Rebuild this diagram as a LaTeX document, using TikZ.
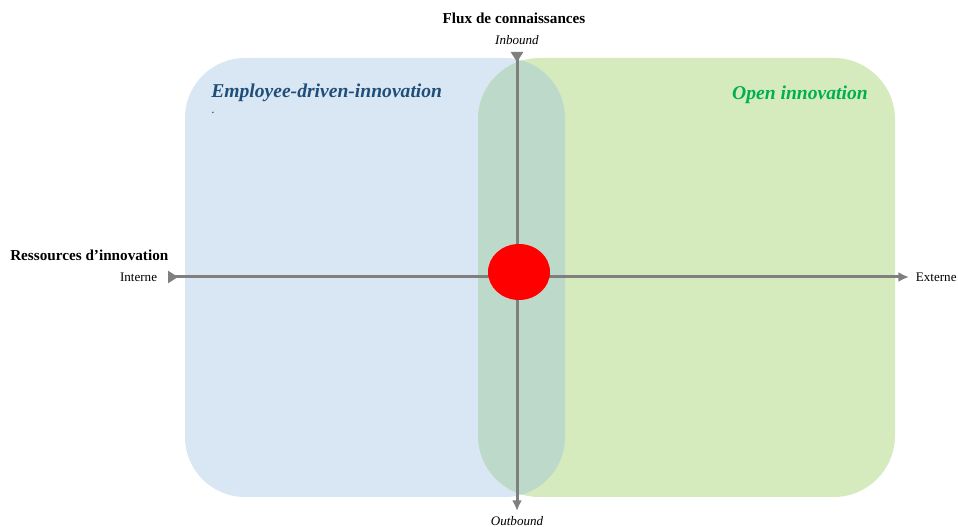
\documentclass[tikz,border=0pt]{standalone}
\usepackage{fontspec}
\setmainfont{Liberation Serif}
\usetikzlibrary{arrows.meta,shapes.geometric}
\usetikzlibrary{positioning,calc}
\definecolor{edBlue}{HTML}{D9E7F5}
\definecolor{oiGreen}{HTML}{D5EBBE}
\definecolor{mixGreen}{HTML}{BDD9CA}
\definecolor{edText}{HTML}{1F4E79}
\definecolor{oiText}{HTML}{00B050}
\definecolor{axisGray}{HTML}{7F7F7F}

\begin{document}
\begin{tikzpicture}[
  x=0.75pt, y=-0.75pt,
  axisLabel/.style={font=\fontsize{9.8}{9.8}\selectfont, inner sep=0pt},
  axisTitle/.style={font=\fontsize{11.4}{11.4}\selectfont\bfseries, inner sep=0pt},
  zoneTitle/.style={font=\fontsize{14.7}{14.7}\selectfont\bfseries\itshape, inner sep=0pt}
]
	\tikzstyle{axis} = [draw=axisGray, line width=2.25pt, {Triangle[reversed,length=7.5pt,width=9pt]}-{Latex[length=8pt,width=7.5pt]}]

	\useasboundingbox (0,0) rectangle (958,527);

	% the two zones
	\fill[edBlue, rounded corners=45pt] (185,58) rectangle (565,497);
	\fill[oiGreen, rounded corners=46pt] (478,58) rectangle (895,497);
	\begin{scope}
		\clip[rounded corners=45pt] (185,58) rectangle (565,497);
		\fill[mixGreen, rounded corners=46pt] (478,58) rectangle (895,497);
	\end{scope}

	\node (edTitle) [zoneTitle, text=edText, anchor=west] at (211,93) {Employee-driven-innovation};
	\node (edDot) [axisLabel, text=edText, anchor=west] at (211,113) {.};
	\node (oiTitle) [zoneTitle, text=oiText, anchor=east] at (868,95) {Open innovation};

	% axes
	\coordinate (topEnd) at (517,52);
	\coordinate (bottomEnd) at (517,511);
	\coordinate (leftEnd) at (168,277);
	\coordinate (rightEnd) at (909,277);

	\draw[axis] (topEnd) -- (bottomEnd);
	\draw[axis] (leftEnd) -- (rightEnd);

	\node (center) [ellipse, fill=red, minimum width=46.5pt, minimum height=42pt, inner sep=0pt] at (519,272) {};

	\node (fluxTitle) [axisTitle] at (514,18) {Flux de connaissances};
	\node (inbound) [axisLabel, font=\fontsize{9.8}{9.8}\selectfont\itshape, above=5pt of topEnd] {Inbound};
	\node (outbound) [axisLabel, font=\fontsize{9.8}{9.8}\selectfont\itshape, below=4pt of bottomEnd] {Outbound};
	\node (ressTitle) [axisTitle, anchor=west] at (10,255) {Ressources d’innovation};
	\node (interne) [axisLabel, left=8pt of leftEnd] {Interne};
	\node (externe) [axisLabel, right=5pt of rightEnd] {Externe};
\end{tikzpicture}
\end{document}
